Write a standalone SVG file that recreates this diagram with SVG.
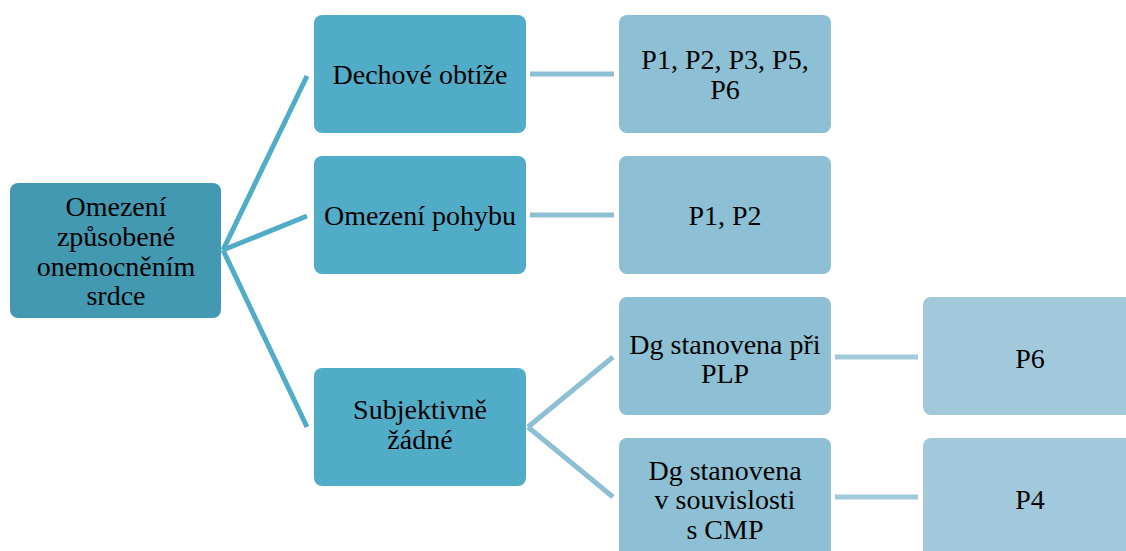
<svg xmlns="http://www.w3.org/2000/svg" width="1126" height="551" viewBox="0 0 1126 551">
  <defs>
    <style>
      .root { fill: #4299b1; }
      .l1 { fill: #51acc8; }
      .l2 { fill: #8dc0d4; }
      .l3 { fill: #a2c9db; }
      .c1 { stroke: #51acc8; stroke-width: 5; fill: none; }
      .c2 { stroke: #8dc0d4; stroke-width: 5; fill: none; }
      .c3 { stroke: #a2c9db; stroke-width: 5; fill: none; }
      .t { font-family: Liberation Serif, Times New Roman, Times, serif; font-size: 28px; fill: #000; text-anchor: middle; }
    </style>
  </defs>

  <!-- connectors -->
  <g id="connectors">
    <line class="c1" x1="223" y1="250" x2="307" y2="76"/>
    <line class="c1" x1="223" y1="250" x2="307" y2="216"/>
    <line class="c1" x1="223" y1="250" x2="307" y2="427"/>
    <line class="c2" x1="530" y1="74" x2="614" y2="74"/>
    <line class="c2" x1="530" y1="215" x2="614" y2="215"/>
    <line class="c2" x1="528" y1="427" x2="613" y2="357"/>
    <line class="c2" x1="528" y1="427" x2="613" y2="497"/>
    <line class="c3" x1="835" y1="357" x2="918" y2="357"/>
    <line class="c3" x1="835" y1="497" x2="918" y2="497"/>
  </g>

  <g id="root">
    <rect class="root" x="10" y="183" width="211" height="135" rx="8"/>
    <text class="t" x="116" y="216">Omezení</text>
    <text class="t" x="116" y="246">způsobené</text>
    <text class="t" x="116" y="276">onemocněním</text>
    <text class="t" x="116" y="305">srdce</text>
  </g>

  <g id="dechove">
    <rect class="l1" x="314" y="15" width="212" height="118" rx="8"/>
    <text class="t" x="420" y="84">Dechové obtíže</text>
  </g>
  <g id="pohyb">
    <rect class="l1" x="314" y="156" width="212" height="118" rx="8"/>
    <text class="t" x="420" y="225">Omezení pohybu</text>
  </g>
  <g id="subjektivne">
    <rect class="l1" x="314" y="368" width="212" height="118" rx="8"/>
    <text class="t" x="420" y="419">Subjektivně</text>
    <text class="t" x="420" y="449">žádné</text>
  </g>

  <g id="pacienti-dech">
    <rect class="l2" x="619" y="15" width="212" height="118" rx="8"/>
    <text class="t" x="725" y="69">P1, P2, P3, P5,</text>
    <text class="t" x="725" y="99">P6</text>
  </g>
  <g id="pacienti-pohyb">
    <rect class="l2" x="619" y="156" width="212" height="118" rx="8"/>
    <text class="t" x="725" y="225">P1, P2</text>
  </g>
  <g id="dg-plp">
    <rect class="l2" x="619" y="297" width="212" height="118" rx="8"/>
    <text class="t" x="725" y="354">Dg stanovena při</text>
    <text class="t" x="725" y="383">PLP</text>
  </g>
  <g id="dg-cmp">
    <rect class="l2" x="619" y="438" width="212" height="124" rx="8"/>
    <text class="t" x="725" y="480">Dg stanovena</text>
    <text class="t" x="725" y="509">v souvislosti</text>
    <text class="t" x="725" y="539">s CMP</text>
  </g>

  <g id="pacient-p6">
    <rect class="l3" x="923" y="297" width="212" height="118" rx="8"/>
    <text class="t" x="1030" y="368">P6</text>
  </g>
  <g id="pacient-p4">
    <rect class="l3" x="923" y="438" width="212" height="124" rx="8"/>
    <text class="t" x="1030" y="509">P4</text>
  </g>
</svg>
